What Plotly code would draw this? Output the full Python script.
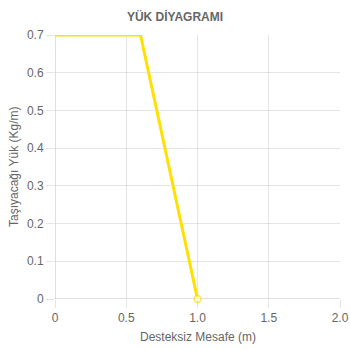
import plotly.graph_objects as go

# Load diagram: distance along the unsupported span vs. load carried
mesafe = [0, 0.6, 1.0]
yuk = [0.7, 0.7, 0]
marker_sizes = [0, 0, 7]

x_tick_vals = [0, 0.5, 1.0, 1.5, 2.0]
x_tick_text = ["0", "0.5", "1.0", "1.5", "2.0"]
y_tick_vals = [0, 0.1, 0.2, 0.3, 0.4, 0.5, 0.6, 0.7]
y_tick_text = ["0", "0.1", "0.2", "0.3", "0.4", "0.5", "0.6", "0.7"]

FONT = "Liberation Sans, Arial, sans-serif"
GRAY = "#666666"
GRID = "rgba(0,0,0,0.1)"
GOLD = "#FFE000"

W, H = 350, 350
ML, MR, MT, MB = 55, 10, 35, 51

fig = go.Figure()
fig.add_trace(go.Scatter(
    x=mesafe, y=yuk, mode="lines+markers",
    line=dict(color=GOLD, width=3),
    marker=dict(size=marker_sizes, color="white",
                line=dict(color=GOLD, width=1.5)),
    cliponaxis=False, showlegend=False, hoverinfo="x+y",
))

plot_h = H - MT - MB
plot_w = W - ML - MR

fig.update_layout(
    width=W, height=H,
    margin=dict(l=ML, r=MR, t=MT, b=MB),
    paper_bgcolor="white", plot_bgcolor="white",
    font=dict(family=FONT, size=12, color=GRAY),
    title=dict(text="<b>YÜK DİYAGRAMI</b>", x=0.5, xref="container",
               y=1 - 17 / H, yref="container", yanchor="middle",
               xanchor="center", font=dict(size=12, color=GRAY, family=FONT)),
    xaxis=dict(range=[0, 2], tickvals=x_tick_vals, ticktext=x_tick_text,
               showgrid=True, gridcolor=GRID, gridwidth=1,
               zeroline=False, showline=False, automargin=False,
               ticks="outside", ticklen=8, tickcolor=GRID,
               tickfont=dict(color=GRAY)),
    yaxis=dict(range=[0, 0.7], tickvals=y_tick_vals, ticktext=y_tick_text,
               showgrid=True, gridcolor=GRID, gridwidth=1,
               zeroline=False, showline=False, automargin=False,
               ticks="outside", ticklen=8, tickcolor=GRID,
               tickfont=dict(color=GRAY)),
    annotations=[
        dict(text="Desteksiz Mesafe (m)", xref="paper", yref="paper",
             x=0.5, y=-(337 - (H - MB)) / plot_h, showarrow=False,
             xanchor="center", yanchor="middle",
             font=dict(size=12, color=GRAY)),
        dict(text="Taşıyacağı Yük (Kg/m)", xref="paper", yref="paper",
             x=-(ML - 14) / plot_w, y=(H - MB - 167) / plot_h, textangle=-90,
             showarrow=False, xanchor="center", yanchor="middle",
             font=dict(size=12, color=GRAY)),
    ],
    shapes=[
        dict(type="line", xref="x", yref="y", x0=0, x1=2, y0=0, y1=0,
             line=dict(color="rgba(0,0,0,0.25)", width=1), layer="below"),
        dict(type="line", xref="x", yref="y", x0=0, x1=0, y0=0, y1=0.7,
             line=dict(color="rgba(0,0,0,0.25)", width=1), layer="below"),
    ],
)

fig.write_html("out.html")
